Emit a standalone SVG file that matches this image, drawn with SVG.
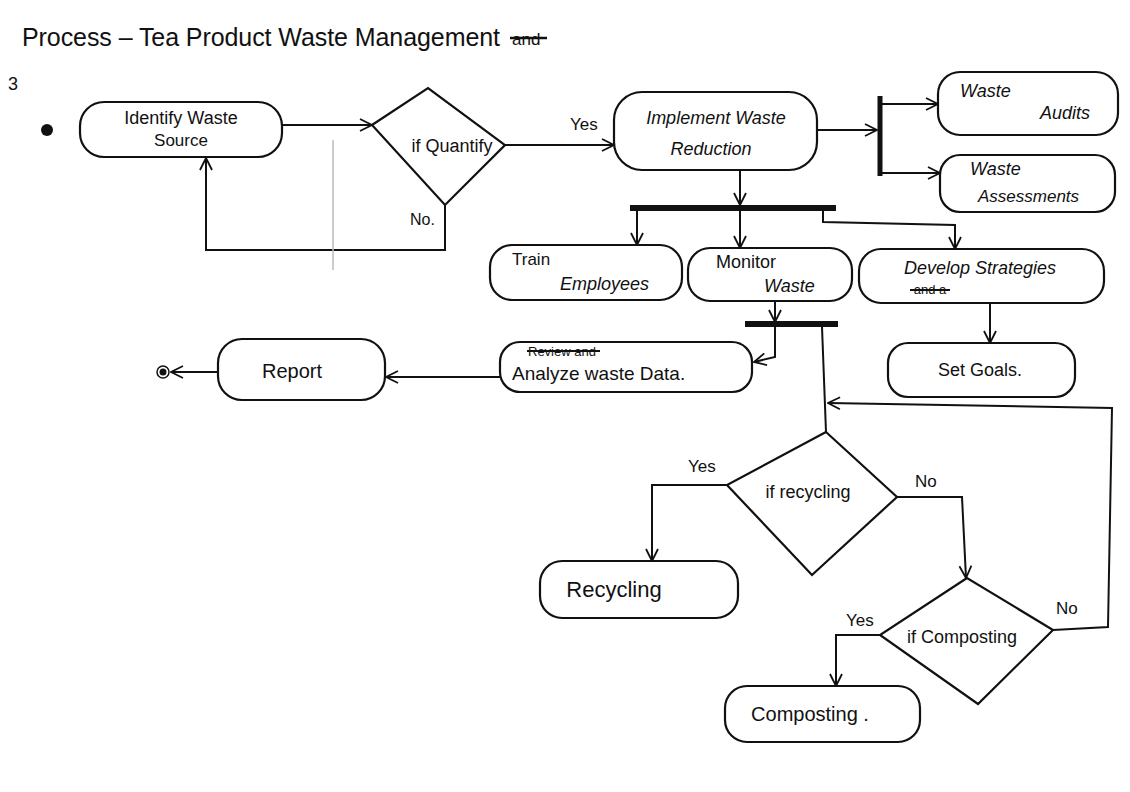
<svg xmlns="http://www.w3.org/2000/svg" width="1130" height="792" viewBox="0 0 1130 792">
<defs>
<style>
.box{fill:none;stroke:#111;stroke-width:2.2}
.ln{fill:none;stroke:#111;stroke-width:2}
.bar{fill:none;stroke:#111;stroke-width:6}
.t{font-family:"Liberation Sans",Arial,sans-serif;font-size:18px;fill:#111}
.lbl{font-family:"Liberation Sans",Arial,sans-serif;font-size:17px;fill:#111}
.strike{font-family:"Liberation Sans",Arial,sans-serif;font-size:13px;fill:#111}
</style>
<marker id="ah" viewBox="0 0 14 14" refX="13" refY="7" markerWidth="14" markerHeight="14" markerUnits="userSpaceOnUse" orient="auto">
<polyline points="1,1 13,7 1,13" fill="none" stroke="#111" stroke-width="1.8"/>
</marker>
</defs>
<rect width="1130" height="792" fill="#ffffff"/>

<g id="title">
<text x="22" y="46" class="t" style="font-size:25px" textLength="478" lengthAdjust="spacing">Process – Tea Product  Waste Management</text>
<text x="512" y="45" class="t" style="font-size:17px">and</text>
<line x1="510" y1="38" x2="547" y2="38" class="ln" style="stroke-width:2.5"/>
<text x="8" y="90" class="t">3</text>
</g>

<g id="start"><circle cx="47" cy="130" r="6" fill="#111"/></g>

<g id="identify">
<rect x="80" y="102" width="202" height="55" rx="24" class="box"/>
<text x="181" y="124" class="t" text-anchor="middle">Identify Waste</text>
<text x="181" y="146" class="t" text-anchor="middle" style="font-size:17px">Source</text>
</g>

<g id="quantify">
<polygon points="372,125 428,88 505,145 445,205" class="box"/>
<text x="452" y="152" class="t" text-anchor="middle">if Quantify</text>
</g>

<g id="implement">
<rect x="614" y="92" width="203" height="78" rx="28" class="box"/>
<text x="716" y="124" class="t" text-anchor="middle" font-style="italic">Implement Waste</text>
<text x="711" y="155" class="t" text-anchor="middle" font-style="italic">Reduction</text>
</g>

<g id="fork1"><line x1="880" y1="96" x2="880" y2="176" class="bar" style="stroke-width:5"/></g>

<g id="audits">
<rect x="938" y="72" width="180" height="63" rx="22" class="box"/>
<text x="960" y="97" class="t" font-style="italic">Waste</text>
<text x="1040" y="119" class="t" font-style="italic">Audits</text>
</g>

<g id="assessments">
<rect x="940" y="155" width="175" height="57" rx="20" class="box"/>
<text x="970" y="175" class="t" font-style="italic">Waste</text>
<text x="978" y="202" class="t" font-style="italic" style="font-size:17px">Assessments</text>
</g>

<g id="fork2"><line x1="630" y1="208" x2="836" y2="208" class="bar"/></g>

<g id="train">
<rect x="490" y="245" width="192" height="55" rx="22" class="box"/>
<text x="512" y="265" class="t" style="font-size:17px">Train</text>
<text x="560" y="290" class="t" font-style="italic">Employees</text>
</g>

<g id="monitor">
<rect x="688" y="248" width="164" height="53" rx="22" class="box"/>
<text x="716" y="268" class="t">Monitor</text>
<text x="764" y="292" class="t" font-style="italic">Waste</text>
</g>

<g id="develop">
<rect x="859" y="249" width="245" height="54" rx="22" class="box"/>
<text x="980" y="274" class="t" text-anchor="middle" font-style="italic">Develop  Strategies</text>
<text x="930" y="294" class="strike" text-anchor="middle">and a</text>
<line x1="910" y1="290" x2="950" y2="290" class="ln"/>
</g>

<g id="setgoals">
<rect x="888" y="343" width="187" height="54" rx="20" class="box"/>
<text x="980" y="376" class="t" text-anchor="middle">Set  Goals.</text>
</g>

<g id="join"><line x1="745" y1="324" x2="838" y2="324" class="bar"/></g>

<g id="analyze">
<rect x="500" y="342" width="252" height="50" rx="20" class="box"/>
<text x="528" y="356" class="strike">Review and</text>
<line x1="527" y1="351" x2="600" y2="351" class="ln" style="stroke-width:1.8"/>
<text x="512" y="380" class="t" style="font-size:19px">Analyze waste Data.</text>
</g>

<g id="report">
<rect x="218" y="339" width="167" height="61" rx="24" class="box"/>
<text x="292" y="378" class="t" text-anchor="middle" style="font-size:20px">Report</text>
</g>

<g id="end">
<circle cx="163" cy="372" r="6" fill="none" stroke="#111" stroke-width="1.5"/>
<circle cx="163" cy="372" r="3.5" fill="#111"/>
</g>

<g id="recyclingDecision">
<polygon points="826,432 727,485 812,575 897,497" class="box"/>
<text x="808" y="498" class="t" text-anchor="middle">if recycling</text>
</g>

<g id="recycling">
<rect x="540" y="561" width="198" height="57" rx="22" class="box"/>
<text x="614" y="597" class="t" text-anchor="middle" style="font-size:22px">Recycling</text>
</g>

<g id="compostingDecision">
<polygon points="967,578 880,635 978,704 1053,630" class="box"/>
<text x="962" y="643" class="t" text-anchor="middle">if Composting</text>
</g>

<g id="composting">
<rect x="725" y="686" width="195" height="56" rx="22" class="box"/>
<text x="810" y="721" class="t" text-anchor="middle" style="font-size:20px">Composting .</text>
</g>

<g id="connectors">
<line x1="282" y1="125" x2="372" y2="125" class="ln" marker-end="url(#ah)"/>
<polyline points="445,205 445,250 206,250 206,158" class="ln" marker-end="url(#ah)"/>
<line x1="333" y1="140" x2="333" y2="270" stroke="#bbb" stroke-width="1.5"/>
<line x1="505" y1="145" x2="614" y2="145" class="ln" marker-end="url(#ah)"/>
<line x1="817" y1="130" x2="877" y2="130" class="ln" marker-end="url(#ah)"/>
<line x1="880" y1="104" x2="938" y2="104" class="ln" marker-end="url(#ah)"/>
<polyline points="880,173 940,173" class="ln" marker-end="url(#ah)"/>
<line x1="740" y1="170" x2="740" y2="205" class="ln" marker-end="url(#ah)"/>
<line x1="637" y1="211" x2="637" y2="245" class="ln" marker-end="url(#ah)"/>
<line x1="740" y1="211" x2="740" y2="248" class="ln" marker-end="url(#ah)"/>
<polyline points="823,211 823,222 955,225 955,249" class="ln" marker-end="url(#ah)"/>
<line x1="990" y1="303" x2="990" y2="343" class="ln" marker-end="url(#ah)"/>
<line x1="775" y1="301" x2="775" y2="322" class="ln" marker-end="url(#ah)"/>
<polyline points="775,326 775,357 754,362" class="ln" marker-end="url(#ah)"/>
<line x1="500" y1="377" x2="386" y2="377" class="ln" marker-end="url(#ah)"/>
<line x1="218" y1="372" x2="171" y2="372" class="ln" marker-end="url(#ah)"/>
<line x1="822" y1="327" x2="826" y2="432" class="ln"/>
<polyline points="1053,630 1108,627 1112,408 828,403" class="ln" marker-end="url(#ah)"/>
<polyline points="727,485 652,485 652,561" class="ln" marker-end="url(#ah)"/>
<polyline points="897,497 962,497 966,578" class="ln" marker-end="url(#ah)"/>
<polyline points="880,635 836,635 836,686" class="ln" marker-end="url(#ah)"/>
<text x="570" y="130" class="lbl">Yes</text>
<text x="410" y="225" class="lbl" style="font-size:16px">No.</text>
<text x="688" y="472" class="lbl">Yes</text>
<text x="915" y="487" class="lbl">No</text>
<text x="846" y="626" class="lbl">Yes</text>
<text x="1056" y="614" class="lbl">No</text>
</g>
</svg>
